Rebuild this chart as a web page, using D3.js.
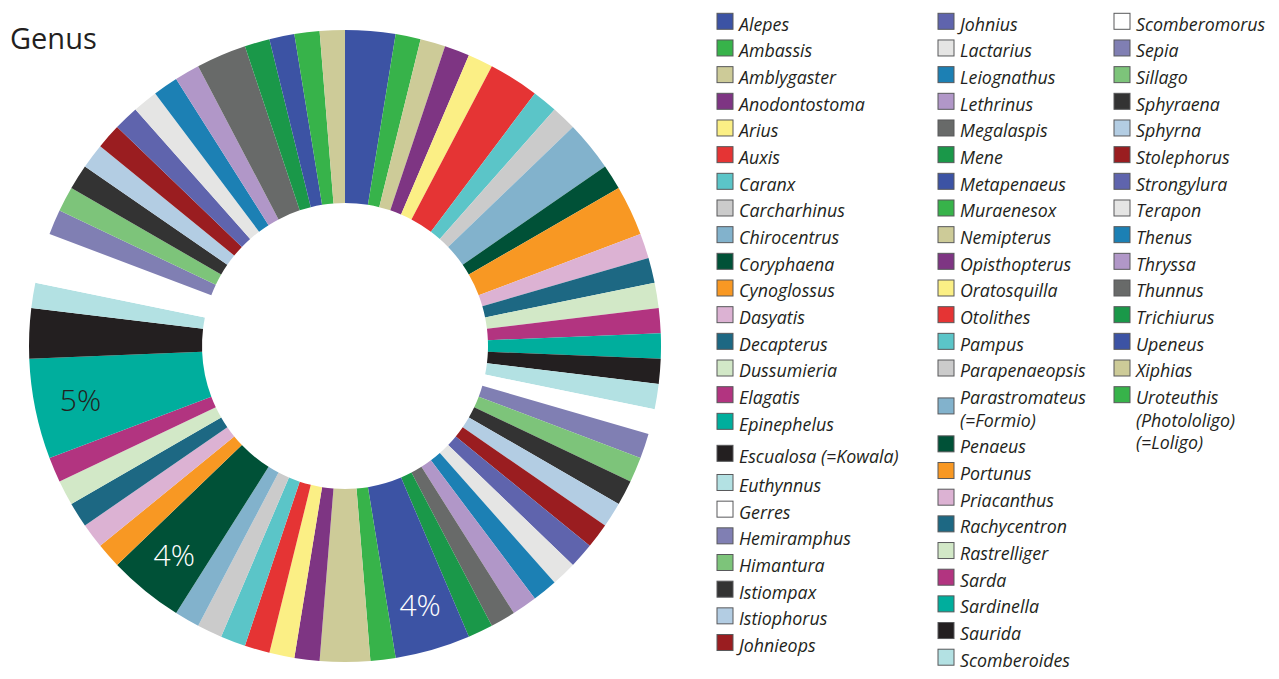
<!DOCTYPE html>
<html>
<head>
<meta charset="utf-8">
<script src="https://cdn.jsdelivr.net/npm/d3@7"></script>
<style>
  html, body { margin: 0; padding: 0; background: #fff; }
  svg { display: block; font-family: "Open Sans", "Noto Sans", sans-serif; }
</style>
</head>
<body>
<svg id="genus-chart"></svg>
<script>
// ================================
// DATA (donut order, clockwise from 12 o'clock)
// ================================
const genera = [
    "Alepes", "Ambassis", "Amblygaster", "Anodontostoma", "Arius", "Auxis",
    "Caranx", "Carcharhinus", "Chirocentrus", "Coryphaena", "Cynoglossus",
    "Dasyatis", "Decapterus", "Dussumieria", "Elagatis", "Epinephelus",
    "Escualosa (=Kowala)", "Euthynnus", "Gerres", "Hemiramphus", "Himantura",
    "Istiompax", "Istiophorus", "Johnieops",
    "Johnius", "Lactarius", "Leiognathus", "Lethrinus", "Megalaspis", "Mene",
    "Metapenaeus", "Muraenesox", "Nemipterus", "Opisthopterus", "Oratosquilla",
    "Otolithes", "Pampus", "Parapenaeopsis", "Parastromateus\n(=Formio)",
    "Penaeus", "Portunus", "Priacanthus", "Rachycentron", "Rastrelliger",
    "Sarda", "Sardinella", "Saurida", "Scomberoides",
    "Scomberomorus", "Sepia", "Sillago", "Sphyraena", "Sphyrna", "Stolephorus",
    "Strongylura", "Terapon", "Thenus", "Thryssa", "Thunnus", "Trichiurus",
    "Upeneus", "Uroteuthis\n(Photololigo)\n(=Loligo)", "Xiphias"
];

// number of records per genus
const counts = [
    2, 1, 1, 1, 1, 2,
    1, 1, 2, 1, 2,
    1, 1, 1, 1, 1,
    1, 1, 1, 1, 1,
    1, 1, 1,
    1, 1, 1, 1, 1, 1,
    3, 1, 2, 1, 1,
    1, 1, 1, 1,
    3, 1, 1, 1, 1,
    1, 4, 2, 1,
    2, 1, 1, 1, 1, 1,
    1, 1, 1, 1, 2, 1,
    1, 1, 1
];

// palette repeats every 30 genera
const palette = [
    "#3c53a4", "#37b34a", "#cdcb98", "#7e3583", "#fbef85", "#e53434",
    "#5bc5c8", "#cbcbcb", "#82b2cc", "#005137", "#f89823", "#dcb2d3",
    "#1d6883", "#d2e8c7", "#b23480", "#00ae9d", "#231f20", "#b3e1e3",
    "#ffffff", "#807fb3", "#7dc47a", "#333333", "#b3cde3", "#9a1d20",
    "#5f64ad", "#e5e5e4", "#1c80b4", "#b197c8", "#686a69", "#1a9849"
];

// legend lists the squid genus last
const legendLast = "Uroteuthis\n(Photololigo)\n(=Loligo)";
const legendColumns = [24, 24, 15];

// ================================
// SVG SETUP
// ================================
const width = 1279;
const height = 679;

const svg = d3.select("#genus-chart")
    .attr("width", width)
    .attr("height", height);

const cx = 345, cy = 346;
const outerR = 316, innerR = 143;
const labelR = 270;

const rows = genera.map((g, i) => ({ name: g, count: counts[i], index: i }));
const total = d3.sum(counts);

const color = d3.scaleOrdinal()
    .domain(d3.range(palette.length))
    .range(palette);
const colorOf = d => color(d.index % palette.length);

// ================================
// DONUT
// ================================
const pie = d3.pie()
    .sort(null)
    .value(d => d.count);

const arc = d3.arc()
    .innerRadius(innerR)
    .outerRadius(outerR);

const labelArc = d3.arc()
    .innerRadius(labelR)
    .outerRadius(labelR);

const donut = svg.append("g")
    .attr("transform", `translate(${cx}, ${cy})`);

const slices = pie(rows);

donut.selectAll("path")
    .data(slices)
    .join("path")
    .attr("d", arc)
    .attr("fill", d => colorOf(d.data));

// percentage labels for the biggest slices only
const pct = d3.format(".0%");
const labelSize = 30;

donut.selectAll("text.pct")
    .data(slices.filter(d => d.data.count / total >= 0.035))
    .join("text")
    .attr("class", "pct")
    .attr("x", d => labelArc.centroid(d)[0])
    .attr("y", d => labelArc.centroid(d)[1] + labelSize * 0.36)
    .attr("text-anchor", "middle")
    .style("font-size", labelSize + "px")
    .style("font-weight", 300)
    .style("fill", d => {
        const c = d3.rgb(colorOf(d.data));
        const lum = (0.2126 * c.r + 0.7152 * c.g + 0.0722 * c.b) / 255;
        return lum > 0.35 ? "#231f20" : "#ffffff";
    })
    .text(d => pct(d.data.count / total));

// ================================
// TITLE
// ================================
svg.append("text")
    .attr("x", 10)
    .attr("y", 49)
    .style("font-size", "29px")
    .style("fill", "#231f20")
    .text("Genus");

// ================================
// LEGEND
// ================================
const colX = [717, 938, 1114];
const rowStep = 26.67;
const lineStep = 22.5;
const firstBaseline = 30.7;
const box = 16;
// the Escualosa row sits a little apart in the original
const extraGap = { "Escualosa (=Kowala)": [5.3, 2.5] };

const legendRows = rows.filter(d => d.name !== legendLast)
    .concat(rows.filter(d => d.name === legendLast));

let start = 0;
legendColumns.forEach((n, col) => {
    const items = legendRows.slice(start, start + n);
    start += n;

    let y = firstBaseline;
    items.forEach(d => {
        const lines = d.name.split("\n");
        const gap = extraGap[d.name] || [0, 0];
        y += gap[0];

        const item = svg.append("g")
            .attr("transform", `translate(${colX[col]}, ${y})`);

        // square centred between lines for a two-line label, else on the first line
        const boxMid = lines.length === 2 ? -9.4 + lineStep / 2 : -9.4;

        item.append("rect")
            .attr("x", 0)
            .attr("y", boxMid - box / 2)
            .attr("width", box)
            .attr("height", box)
            .attr("fill", colorOf(d))
            .attr("stroke", "#58595b")
            .attr("stroke-width", 1);

        item.append("text")
            .attr("x", box + 6)
            .attr("y", 0)
            .style("font-size", "17.8px")
            .style("font-style", "italic")
            .style("fill", "#231f20")
            .selectAll("tspan")
            .data(lines)
            .join("tspan")
            .attr("x", box + 6)
            .attr("dy", (l, i) => i === 0 ? 0 : lineStep)
            .text(l => l);

        y += (lines.length - 1) * lineStep + rowStep + gap[1];
    });
});
</script>
</body>
</html>
